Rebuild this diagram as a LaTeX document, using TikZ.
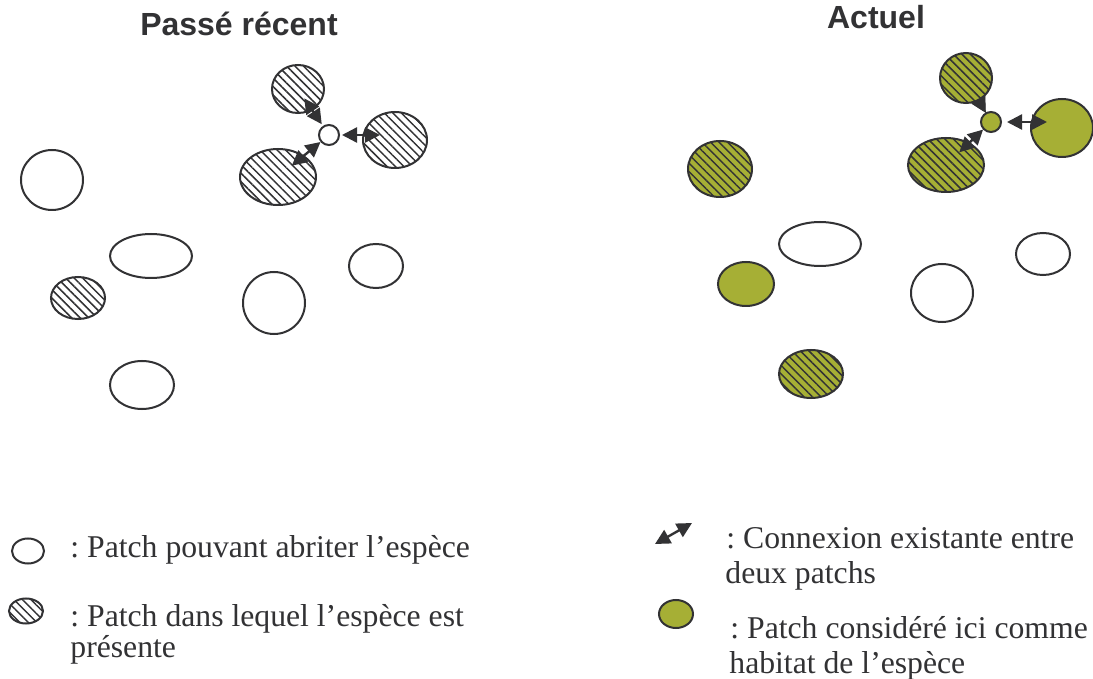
\documentclass[tikz,border=0pt]{standalone}
\usepackage{fontspec}
\setmainfont{Liberation Serif}
\newfontfamily\titlefont{Liberation Sans}
\usetikzlibrary{shapes.geometric,patterns.meta,arrows.meta,calc}
\definecolor{olivefill}{RGB}{166,175,53}
\definecolor{ink}{RGB}{50,50,52}
\frenchspacing
\tikzset{
  patch/.style={ellipse, draw=ink, line width=1pt, inner sep=0pt},
  sz/.style 2 args={minimum width=#1pt, minimum height=#2pt},
  hatch/.style={pattern={Lines[angle=-45,distance=3pt,line width=0.75pt]}, pattern color=ink},
  hab/.style={fill=olivefill},
  habhatch/.style={preaction={fill=olivefill}, pattern={Lines[angle=-45,distance=3pt,line width=0.75pt]}, pattern color=ink},
  conn/.style={{Triangle[length=7.5pt,width=7.5pt]}-{Triangle[length=7.5pt,width=7.5pt]}, draw=ink, fill=ink, line width=1.2pt},
  title/.style={font=\titlefont\bfseries\fontsize{16}{18}\selectfont, text=ink, anchor=base, inner sep=0pt},
  legend/.style={font=\fontsize{15.85}{16}\selectfont, text=ink, anchor=base west, inner sep=0pt},
}
\begin{document}
\begin{tikzpicture}[x=0.5pt,y=-0.5pt]
\useasboundingbox[fill=white] (0,0) rectangle (1093,679);

% titles
\node[title] (tl) at (239,36) {Passé récent};
\node[title] (tr) at (876,29) {Actuel};

% left panel
\node[patch, sz={26}{24}, hatch] (t1) at (298,89) {};
\node[patch, sz={10}{10}] (c1) at (329,135) {};
\node[patch, sz={32}{28}, hatch] (r1) at (395,140) {};
\node[patch, sz={38}{28}, hatch] (b1) at (278,177) {};
\node[patch, sz={31}{30}] (w1) at (52,180) {};
\node[patch, sz={41}{22}] (w2) at (151,256) {};
\node[patch, sz={27}{21}, hatch] (h1) at (78,298) {};
\node[patch, sz={31}{31}] (w3) at (274,303) {};
\node[patch, sz={27}{22}] (w4) at (376,266) {};
\node[patch, sz={32}{24}] (w5) at (142,385) {};

\draw[conn, shorten <=-7pt, shorten >=1pt] (t1) -- (c1);
\draw[conn] ([xshift=1pt]c1.east) -- ($(c1.east -| r1.west)+(18,0)$);
\draw[conn, shorten <=-8pt] (b1) -- (c1);

% right panel
\node[patch, sz={26}{25}, habhatch] (t2) at (966,78) {};
\node[patch, sz={10}{10}, hab] (c2) at (991,122) {};
\node[patch, sz={31}{29}, hab] (r2) at (1062,128) {};
\node[patch, sz={38}{27}, habhatch] (b2) at (946,165) {};
\node[patch, sz={32}{28}, habhatch] (g1) at (720,169) {};
\node[patch, sz={41}{22}] (w6) at (820,244) {};
\node[patch, sz={28}{22}, hab] (g2) at (746,284) {};
\node[patch, sz={31}{29}] (w7) at (942,293) {};
\node[patch, sz={27}{21}] (w8) at (1043,254) {};
\node[patch, sz={32}{24}, habhatch] (g3) at (811,374) {};

\draw[conn, shorten <=-7pt] (t2) -- (c2);
\draw[conn] ([xshift=2.5pt]c2.east) -- ($(c2.east -| r2.west)+(17,0)$);
\draw[conn, shorten <=-7pt] (b2) -- (c2);

% legend left
\node[patch, sz={16}{12.5}] (lg1) at (28,551) {};
\node[legend] (lt1) at (70,557) {: Patch pouvant abriter l’espèce};
\node[patch, sz={17}{12.5}, hatch] (lg2) at (26,611) {};
\node[legend] (lt2) at (70,626) {: Patch dans lequel l’espèce est};
\node[legend] (lt3) at (70,657) {présente};

% legend right
\coordinate (la) at (655,544);
\coordinate (lb) at (692,523);
\draw[conn] (la) -- (lb);
\node[legend] (lt4) at (726,548) {: Connexion existante entre};
\node[legend] (lt5) at (725,583) {deux patchs};
\node[patch, sz={17}{14}, hab] (lg4) at (676,614) {};
\node[legend] (lt6) at (730,638) {: Patch considéré ici comme};
\node[legend] (lt7) at (729,673) {habitat de l’espèce};
\end{tikzpicture}
\end{document}
